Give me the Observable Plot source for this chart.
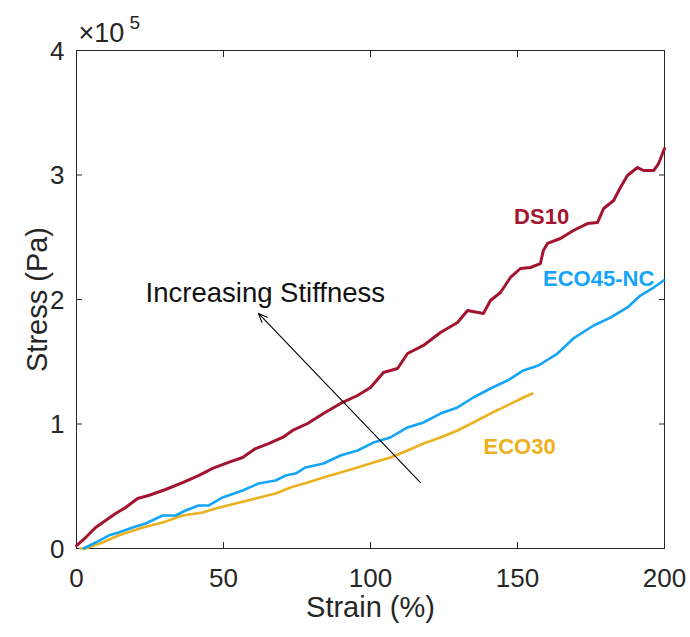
<!DOCTYPE html>
<html><head><meta charset="utf-8">
<script src="https://cdn.jsdelivr.net/npm/d3@7"></script>
<script src="https://cdn.jsdelivr.net/npm/@observablehq/plot@0.6"></script>
<style>body{margin:0;background:#fff}</style>
</head><body><div id="chart"></div>
<script>
// Strain (%) and Stress (Pa)
const ds10Strain = [0, 3.1, 6.5, 9.9, 13.3, 16.7, 20.8, 24.5, 30.3, 36.1, 41.5, 46.3, 51.7, 56.5, 60.9, 65.3, 70.1, 73.5, 78.6, 84.0, 89.8, 95.6, 100.0, 104.4, 109.2, 112.6, 118.0, 123.8, 129.6, 133.0, 138.4, 140.8, 144.2, 147.6, 151.0, 154.4, 157.8, 158.8, 160.2, 164.6, 169.0, 173.8, 177.2, 179.3, 182.7, 185.0, 187.4, 190.8, 192.9, 196.3, 198.0, 200];
const ds10Stress = [2400, 8800, 16900, 22500, 28100, 32900, 40200, 42600, 47400, 53000, 58600, 64300, 69100, 73100, 80300, 84300, 89200, 94800, 100400, 108400, 116500, 122900, 129300, 141400, 144600, 156600, 163100, 173500, 181500, 191200, 188800, 199200, 205600, 217700, 224900, 225700, 228900, 239400, 245000, 249000, 255400, 261000, 261800, 273100, 279500, 290000, 299600, 306000, 303600, 303600, 309200, 321300];

const eco45Strain = [2.4, 6.5, 10.9, 14.3, 19.1, 23.5, 29.3, 33.7, 37.1, 41.5, 44.9, 49.7, 56.5, 61.9, 67.7, 71.1, 74.5, 77.9, 84.0, 89.8, 95.6, 101.0, 106.8, 112.6, 118.0, 123.8, 129.6, 135.0, 140.8, 146.6, 152.0, 157.1, 163.6, 169.0, 175.9, 181.6, 187.4, 191.8, 196.3, 199.7];
const eco45Stress = [0, 4800, 10400, 12900, 16900, 20100, 26500, 26500, 30500, 34500, 34500, 41000, 46600, 52200, 54600, 58600, 60200, 65100, 68300, 74700, 78700, 85100, 89200, 97200, 101200, 108400, 113300, 121300, 128500, 134900, 143000, 147000, 156600, 168700, 179100, 185500, 193600, 203200, 209600, 215300];

const eco30Strain = [1.4, 3.1, 8.8, 14.3, 22.5, 29.3, 36.1, 42.9, 47.3, 54.1, 60.9, 67.7, 72.8, 78.6, 84.0, 89.8, 95.6, 101.0, 106.8, 112.6, 118.0, 123.8, 129.6, 135.0, 140.8, 146.6, 152.0, 155.1];
const eco30Stress = [0, 0, 4800, 10400, 16900, 20900, 26500, 28900, 32100, 36100, 40200, 44200, 49000, 53000, 57000, 61000, 65100, 69100, 73100, 78700, 84300, 89200, 94800, 101200, 108400, 114900, 121300, 124500];

const seriesNames = ["ECO30", "ECO45-NC", "DS10"];
const xTicks = [0, 50, 100, 150, 200];
const yTicks = [0, 100000, 200000, 300000, 400000];
const yTickLabels = ["0", "1", "2", "3", "4"];

const colors = {"DS10": "#A2142F", "ECO45-NC": "#14A5F7", "ECO30": "#EDB120"};
const widths = {"DS10": 3, "ECO45-NC": 2.6, "ECO30": 2.6};
const ink = "#262626";

const table = [];
[["DS10", ds10Strain, ds10Stress], ["ECO45-NC", eco45Strain, eco45Stress], ["ECO30", eco30Strain, eco30Stress]]
  .forEach(([name, xs, ys]) => xs.forEach((x, i) => table.push({series: name, strain: x, stress: ys[i]})));

const chart = Plot.plot({
  width: 690, height: 637,
  marginLeft: 76, marginRight: 26, marginTop: 50, marginBottom: 89,
  x: {domain: [0, 200]},
  y: {domain: [0, 400000]},
  style: {fontFamily: "'Liberation Sans', Arial, sans-serif", fontSize: "26px", color: ink, background: "white"},
  marks: [
    Plot.axisX(xTicks, {anchor: "bottom", tickSize: 0, tickPadding: 20, label: null, fontSize: 26}),
    Plot.axisY(yTicks, {anchor: "left", tickSize: 0, tickPadding: 12, label: null, fontSize: 26, dy: 1,
      tickFormat: (d) => yTickLabels[yTicks.indexOf(d)]}),
    Plot.axisX(xTicks, {anchor: "bottom", tickSize: 6, dy: -6, label: null, tickFormat: () => ""}),
    Plot.axisX(xTicks, {anchor: "top", tickSize: 6, dy: 6, label: null, tickFormat: () => ""}),
    Plot.axisY(yTicks, {anchor: "left", tickSize: 6, dx: 6, label: null, tickFormat: () => ""}),
    Plot.axisY(yTicks, {anchor: "right", tickSize: 6, dx: -6, label: null, tickFormat: () => ""}),
    Plot.frame({stroke: ink, strokeWidth: 1}),
    ...seriesNames.map(name => Plot.line(table.filter(d => d.series === name), {
      x: "strain", y: "stress", stroke: colors[name], strokeWidth: widths[name], strokeLinejoin: "round"
    })),
    Plot.text([{t: "DS10", x: 158.2, y: 261000}, {t: "ECO45-NC", x: 177.6, y: 211000}, {t: "ECO30", x: 150.7, y: 76300}], {
      x: "x", y: "y", text: "t", fill: d => colors[d.t], fontWeight: "bold", fontSize: 22,
      textAnchor: "middle", lineAnchor: "bottom"
    }),
    Plot.arrow([{x1: 117, y1: 53000, x2: 61.9, y2: 188800}], {
      x1: "x1", y1: "y1", x2: "x2", y2: "y2", stroke: "#000", strokeWidth: 1.1, headLength: 13, headAngle: 45
    }),
    Plot.text(["Increasing Stiffness"], {x: 23.5, y: 197600, text: d => d, fill: "#111", fontSize: 27.5,
      textAnchor: "start", lineAnchor: "bottom"}),
    Plot.text(["Strain (%)"], {frameAnchor: "bottom", dy: 68, text: d => d, fontSize: 29, textAnchor: "middle", lineAnchor: "bottom", fill: ink}),
    Plot.text(["Stress (Pa)"], {frameAnchor: "left", dx: -30, rotate: -90, text: d => d, fontSize: 29, textAnchor: "middle", lineAnchor: "bottom", fill: ink}),
    Plot.text(["\u00d710"], {frameAnchor: "top-left", dx: 2, dy: -9, text: d => d, fontSize: 27, textAnchor: "start", lineAnchor: "bottom", fill: ink}),
    Plot.text(["5"], {frameAnchor: "top-left", dx: 53, dy: -22, text: d => d, fontSize: 19, textAnchor: "start", lineAnchor: "bottom", fill: ink})
  ]
});
document.getElementById("chart").appendChild(chart);
</script>
</body></html>
